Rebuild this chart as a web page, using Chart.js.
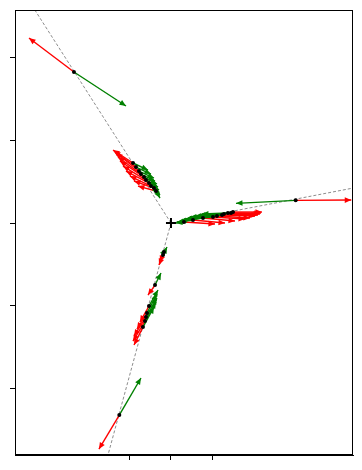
<!DOCTYPE html>
<html>
<head>
<meta charset="utf-8">
<script src="https://cdn.jsdelivr.net/npm/chart.js@4"></script>
<style>
  html, body { margin: 0; padding: 0; background: #fff; }
  #wrap { width: 362px; height: 470px; }
</style>
</head>
<body>
<div id="wrap"><canvas id="c"></canvas></div>
<script>
// axis ticks (no labels in the original)
const xTicks = [-0.5, 0, 0.5];
const yTicks = [-2, -1, 0, 1, 2];
const xRange = [-1.886, 2.201];
const yRange = [-2.805, 2.576];

// centre marker and the three dashed guide rays
const centerX = [0];
const centerY = [0];
const rayX = [-2.0, 2.5, -0.82];
const rayY = [3.13, 0.48, -3.02];

// black points
const pointsX = [-1.173, 1.508, -0.625,
  -0.459, -0.423, -0.387, -0.363, -0.326, -0.302, -0.266, -0.242, -0.206, -0.181,
  0.157, 0.266, 0.387, 0.508, 0.556, 0.617, 0.641, 0.689, 0.726, 0.750,
  -0.097, -0.085, -0.193, -0.266, -0.290, -0.302, -0.314, -0.339];
const pointsY = [1.826, 0.274, -2.322,
  0.726, 0.677, 0.629, 0.592, 0.556, 0.520, 0.484, 0.447, 0.423, 0.387,
  0.012, 0.036, 0.060, 0.073, 0.085, 0.097, 0.109, 0.121, 0.121, 0.133,
  -0.387, -0.351, -0.750, -1.004, -1.088, -1.137, -1.185, -1.258];

// red arrow tips (outward)
const redX = [-1.717, 2.18, -0.871,
  -0.701, -0.689, -0.665, -0.641, -0.617, -0.580, -0.544, -0.496, -0.447, -0.399,
  0.532, 0.653, 0.774, 0.895, 0.955, 1.016, 1.052, 1.076, 1.088, 1.100,
  -0.145, -0.133, -0.278, -0.375, -0.411, -0.447, -0.459, -0.447];
const redY = [2.237, 0.278, -2.733,
  0.883, 0.871, 0.846, 0.798, 0.750, 0.689, 0.629, 0.568, 0.508, 0.447,
  -0.012, 0.000, 0.024, 0.048, 0.060, 0.085, 0.097, 0.109, 0.121, 0.133,
  -0.508, -0.472, -0.871, -1.197, -1.282, -1.366, -1.427, -1.475];

// green arrow tips (inward)
const greenX = [-0.544, 0.786, -0.363,
  -0.278, -0.242, -0.206, -0.193, -0.169, -0.157, -0.145, -0.145, -0.133, -0.133,
  0.060, 0.073, 0.109, 0.169, 0.230, 0.290, 0.339, 0.375, 0.181, 0.097,
  -0.048, -0.060, -0.121, -0.157, -0.169, -0.169, -0.181, -0.206];
const greenY = [1.415, 0.238, -1.874,
  0.641, 0.592, 0.544, 0.508, 0.472, 0.435, 0.399, 0.363, 0.339, 0.302,
  0.000, 0.012, 0.024, 0.048, 0.073, 0.085, 0.097, 0.109, 0.048, 0.012,
  -0.290, -0.314, -0.605, -0.810, -0.859, -0.907, -0.955, -1.016];

const RED = "#ff0000";
const GREEN = "#008000";

const datasets = [];
datasets.push({
  label: "points", data: pointsX.map((x, i) => ({ x, y: pointsY[i] })),
  pointRadius: 2, pointBackgroundColor: "#000", pointBorderWidth: 0, showLine: false,
});
datasets.push({
  label: "centre", data: centerX.map((x, i) => ({ x, y: centerY[i] })),
  pointStyle: "cross", pointRadius: 5, pointBorderColor: "#000", pointBorderWidth: 2, showLine: false,
});
function arrow(tx, ty, color) {
  for (let i = 0; i < pointsX.length; i += 1) {
    datasets.push({
      data: [{ x: pointsX[i], y: pointsY[i] }, { x: tx[i], y: ty[i] }],
      showLine: true, borderColor: color, borderWidth: 1.4, pointRadius: 0, arrowColor: color,
    });
  }
}
arrow(greenX, greenY, GREEN);
arrow(redX, redY, RED);
for (let i = 0; i < rayX.length; i += 1) {
  datasets.push({
    data: [{ x: centerX[0], y: centerY[0] }, { x: rayX[i], y: rayY[i] }],
    showLine: true, borderColor: "#808080", borderWidth: 0.9, borderDash: [3, 2], pointRadius: 0,
  });
}

const arrowHeads = {
  id: "arrowHeads",
  afterDatasetDraw(chart, args) {
    const ds = chart.data.datasets[args.index];
    if (!ds.arrowColor) return;
    const [a, b] = args.meta.data;
    const ang = Math.atan2(b.y - a.y, b.x - a.x);
    const len = 6.5, half = 2.8;
    const ctx = chart.ctx;
    const area = chart.chartArea;
    ctx.save();
    ctx.beginPath();
    ctx.rect(area.left, area.top, area.right - area.left, area.bottom - area.top);
    ctx.clip();
    ctx.translate(b.x, b.y);
    ctx.rotate(ang);
    ctx.beginPath();
    ctx.moveTo(0, 0);
    ctx.lineTo(-len, half);
    ctx.lineTo(-len, -half);
    ctx.closePath();
    ctx.fillStyle = ds.arrowColor;
    ctx.fill();
    ctx.restore();
  },
  afterDraw(chart) {
    const { ctx, chartArea: a } = chart;
    ctx.save();
    ctx.strokeStyle = "#000";
    ctx.lineWidth = 1;
    ctx.strokeRect(Math.round(a.left) + 0.5, Math.round(a.top) + 0.5,
      Math.round(a.right - a.left) - 1, Math.round(a.bottom - a.top) - 1);
    ctx.restore();
  },
};

function axis(pos, range, ticks) {
  return {
    type: "linear", position: pos, min: range[0], max: range[1],
    afterBuildTicks: (s) => { s.ticks = ticks.map((v) => ({ value: v })); },
    ticks: { display: false },
    grid: { drawOnChartArea: false, drawTicks: true, tickLength: 5, color: "#000", lineWidth: 1 },
    border: { display: true, color: "#000", width: 1 },
  };
}

new Chart(document.getElementById("c"), {
  type: "scatter",
  data: { datasets },
  options: {
    responsive: true,
    maintainAspectRatio: false,
    animation: false,
    layout: { padding: { left: 10, top: 10, right: 9, bottom: 10 } },
    plugins: { legend: { display: false }, tooltip: { enabled: false } },
    scales: { x: axis("bottom", xRange, xTicks), y: axis("left", yRange, yTicks) },
  },
  plugins: [arrowHeads],
});
</script>
</body>
</html>
